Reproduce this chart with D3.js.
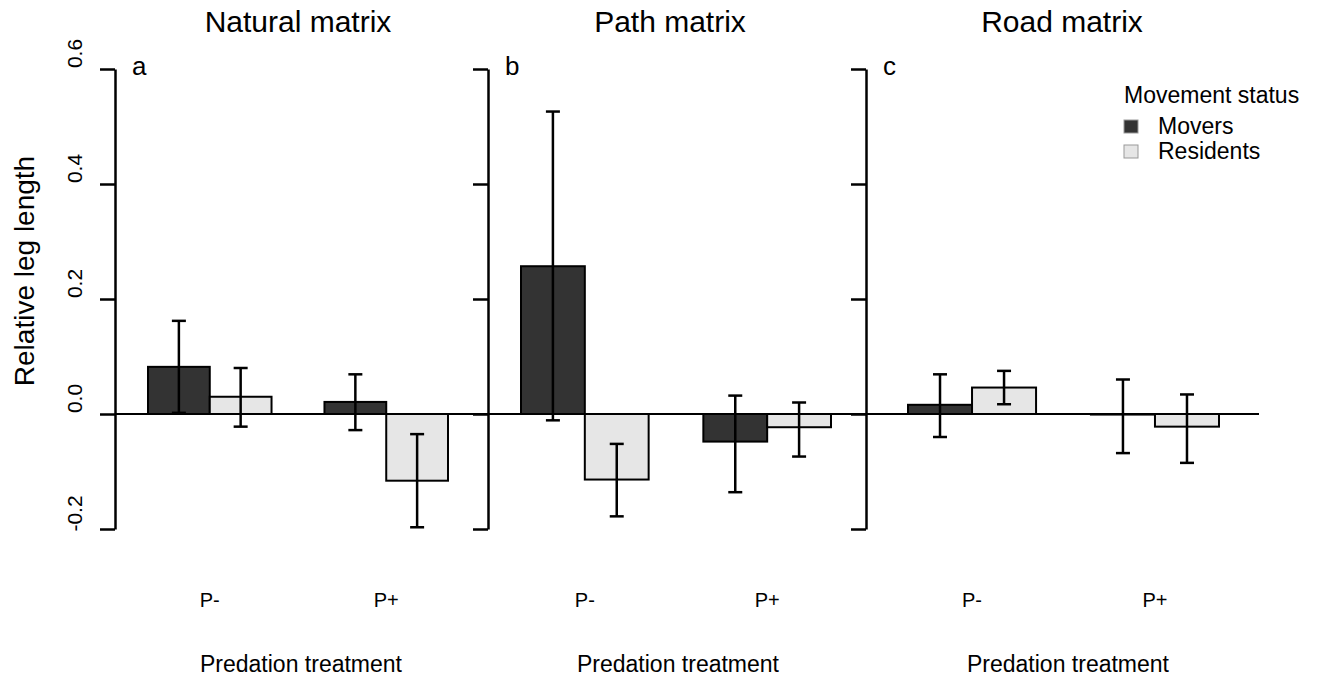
<!DOCTYPE html>
<html>
<head>
<meta charset="utf-8">
<script src="https://cdn.jsdelivr.net/npm/d3@7"></script>
<style>
	body { margin: 0; background: white; }
	text { font-family: "Liberation Sans", Arial, sans-serif; fill: black; }
</style>
</head>
<body>
<div id="content"></div>
<script>
// chart values
var panelTitles = ["Natural matrix", "Path matrix", "Road matrix"];
var panelLetters = ["a", "b", "c"];
var treatments = ["P-", "P+"];
var statuses = ["Movers", "Residents"];
var yTicks = [-0.2, 0.0, 0.2, 0.4, 0.6];

// means, one row per panel, columns = treatments
var moversMean = [[0.082, 0.021], [0.257, -0.048], [0.016, -0.001]];
var residentsMean = [[0.030, -0.116], [-0.114, -0.023], [0.046, -0.022]];
// error bar ends
var moversLow = [[0.002, -0.028], [-0.011, -0.136], [-0.040, -0.068]];
var moversHigh = [[0.162, 0.069], [0.526, 0.032], [0.069, 0.060]];
var residentsLow = [[-0.022, -0.197], [-0.178, -0.074], [0.017, -0.085]];
var residentsHigh = [[0.080, -0.035], [-0.052, 0.020], [0.075, 0.034]];

var statusColors = ["#333333", "#e6e6e6"];

// layout of the three panels
var axisX = [115, 488, 866];
var barRange = [[148, 448], [521, 831], [908, 1219]];
var titleX = [298, 670, 1062];
var xTitleX = [301, 678, 1068];

function main() {
	var width = 1321;
	var height = 677;

	var svg = d3.select("#content")
		.append("svg")
		.attr("width", width)
		.attr("height", height);

	var y = d3.scaleLinear()
		.domain([-0.2, 0.6])
		.range([529, 69]);

	// zero reference line across all panels
	svg.append("line")
		.attr("x1", axisX[0])
		.attr("x2", 1259)
		.attr("y1", y(0))
		.attr("y2", y(0))
		.attr("stroke", "black")
		.attr("stroke-width", 2);

	for (var p = 0; p < panelTitles.length; p++) {
		drawPanel(svg, p, y);
	}

	// y axis label
	svg.append("text")
		.attr("transform", "translate(34," + 271 + ") rotate(-90)")
		.attr("text-anchor", "middle")
		.style("font-size", "28px")
		.text("Relative leg length");

	drawLegend(svg);
}

function drawPanel(svg, p, y) {
	var g = svg.append("g");

	var x0 = d3.scaleBand()
		.domain(treatments)
		.range(barRange[p])
		.paddingInner(0.3);

	var x1 = d3.scaleBand()
		.domain(statuses)
		.range([0, x0.bandwidth()]);

	var rows = [];
	treatments.forEach(function (t, i) {
		rows.push({ t: t, s: statuses[0], v: moversMean[p][i], lo: moversLow[p][i], hi: moversHigh[p][i] });
		rows.push({ t: t, s: statuses[1], v: residentsMean[p][i], lo: residentsLow[p][i], hi: residentsHigh[p][i] });
	});

	g.selectAll("rect.bar")
		.data(rows)
		.enter()
		.append("rect")
		.attr("class", "bar")
		.attr("x", function (d) { return x0(d.t) + x1(d.s); })
		.attr("width", x1.bandwidth())
		.attr("y", function (d) { return y(Math.max(0, d.v)); })
		.attr("height", function (d) { return Math.abs(y(d.v) - y(0)); })
		.attr("fill", function (d) { return statusColors[statuses.indexOf(d.s)]; })
		.attr("stroke", "black")
		.attr("stroke-width", 2);

	var cap = 7;
	var err = g.selectAll("g.err")
		.data(rows)
		.enter()
		.append("g")
		.attr("class", "err")
		.attr("transform", function (d) { return "translate(" + (x0(d.t) + x1(d.s) + x1.bandwidth() / 2) + ",0)"; })
		.attr("stroke", "black")
		.attr("stroke-width", 2.5);

	err.append("line")
		.attr("y1", function (d) { return y(d.lo); })
		.attr("y2", function (d) { return y(d.hi); });
	err.append("line")
		.attr("x1", -cap).attr("x2", cap)
		.attr("y1", function (d) { return y(d.hi); })
		.attr("y2", function (d) { return y(d.hi); });
	err.append("line")
		.attr("x1", -cap).attr("x2", cap)
		.attr("y1", function (d) { return y(d.lo); })
		.attr("y2", function (d) { return y(d.lo); });

	// y axis
	var axis = d3.axisLeft(y)
		.tickValues(yTicks)
		.tickSize(15)
		.tickSizeOuter(0)
		.tickFormat(function (d) { return p == 0 ? d.toFixed(1) : ""; });

	var ax = g.append("g")
		.attr("transform", "translate(" + axisX[p] + ",0)")
		.call(axis);
	ax.select(".domain").attr("stroke-width", 2.5);
	ax.selectAll(".tick line").attr("stroke-width", 2.5);
	ax.selectAll(".tick text")
		.attr("transform", "rotate(-90)")
		.attr("x", 16)
		.attr("y", -33)
		.attr("dy", 0)
		.attr("text-anchor", "middle")
		.style("font-size", "21px")
		.style("font-family", "'Liberation Sans', Arial, sans-serif");

	// panel letter
	g.append("text")
		.attr("x", axisX[p] + 17)
		.attr("y", 75)
		.style("font-size", "26px")
		.text(panelLetters[p]);

	// title
	g.append("text")
		.attr("x", titleX[p])
		.attr("y", 32)
		.attr("text-anchor", "middle")
		.style("font-size", "30px")
		.text(panelTitles[p]);

	// treatment labels
	g.selectAll("text.treat")
		.data(treatments)
		.enter()
		.append("text")
		.attr("class", "treat")
		.attr("x", function (d) { return x0(d) + x0.bandwidth() / 2; })
		.attr("y", 607)
		.attr("text-anchor", "middle")
		.style("font-size", "20px")
		.text(function (d) { return d; });

	g.append("text")
		.attr("x", xTitleX[p])
		.attr("y", 672)
		.attr("text-anchor", "middle")
		.style("font-size", "23px")
		.text("Predation treatment");
}

function drawLegend(svg) {
	var lg = svg.append("g");

	lg.append("text")
		.attr("x", 1124)
		.attr("y", 103)
		.style("font-size", "23px")
		.text("Movement status");

	var items = lg.selectAll("g.item")
		.data(statuses)
		.enter()
		.append("g")
		.attr("class", "item")
		.attr("transform", function (d, i) { return "translate(1124," + (120 + i * 25) + ")"; });

	items.append("rect")
		.attr("width", 14)
		.attr("height", 13)
		.attr("fill", function (d, i) { return statusColors[i]; })
		.attr("stroke", "#999")
		.attr("stroke-width", 1);

	items.append("text")
		.attr("x", 34)
		.attr("y", 14)
		.style("font-size", "23px")
		.text(function (d) { return d; });
}

(() => {
	main();
})()
</script>
</body>
</html>
